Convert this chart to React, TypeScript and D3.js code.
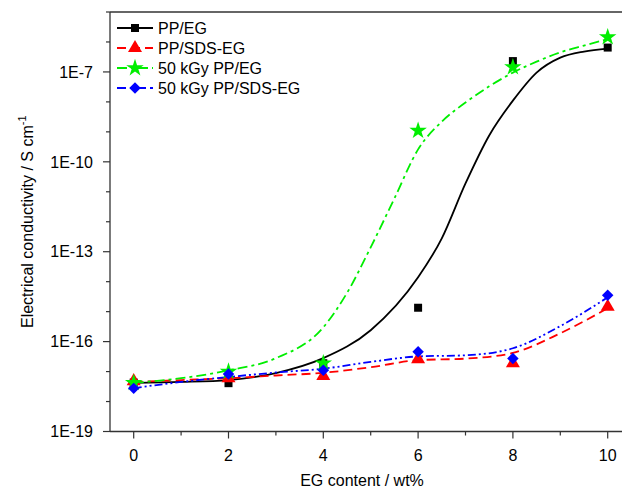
import React, { useEffect, useRef } from 'react';
import * as d3 from 'd3';

// measured points
const egContent = [0, 2, 4, 6, 8, 10];
const ppEG = [4.3e-18, 4.1e-18, 1.9e-17, 1.35e-15, 2.3e-7, 6.5e-7];
const ppSdsEG = [4.8e-18, 6.0e-18, 7.1e-18, 2.6e-17, 1.9e-17, 1.45e-15];
const irrPpEG = [4.2e-18, 1.0e-17, 1.9e-17, 1.1e-9, 1.45e-7, 1.45e-6];
const irrPpSdsEG = [2.75e-18, 8.3e-18, 1.1e-17, 4.6e-17, 2.75e-17, 3.5e-15];

// fitted curves
const fitXBlack = [0, 1, 2, 3, 4, 5, 6, 6.5, 7, 7.5, 8, 8.5, 9, 9.5, 10];
const fitBlack = [4.2e-18, 4.5e-18, 5.2e-18, 8.9e-18, 2.8e-17, 2.4e-16, 1.4e-14, 2.8e-13, 1.9e-11, 7.6e-10, 1.1e-8, 9.5e-8, 3.0e-7, 4.8e-7, 6.0e-7];
const fitXGreen = [0, 1, 2, 3, 4, 4.5, 5, 5.5, 6, 6.5, 7, 7.5, 8, 8.5, 9, 9.5, 10];
const fitGreen = [4.2e-18, 6.0e-18, 1.1e-17, 2.8e-17, 3.0e-16, 4.2e-15, 1.4e-13, 6.0e-12, 2.6e-10, 2.2e-9, 9.5e-9, 3.3e-8, 9.5e-8, 2.2e-7, 4.5e-7, 7.6e-7, 1.25e-6];
const fitXFlat = [0, 1, 2, 3, 4, 5, 6, 7, 8, 9, 10];
const fitRed = [4.5e-18, 5.2e-18, 6.0e-18, 7.4e-18, 9.1e-18, 1.4e-17, 2.4e-17, 2.7e-17, 4.2e-17, 1.9e-16, 1.3e-15];
const fitBlue = [2.8e-18, 4.5e-18, 6.6e-18, 9.3e-18, 1.25e-17, 2.1e-17, 3.2e-17, 3.5e-17, 6.0e-17, 3.3e-16, 3.0e-15];

const xTicks = [0, 2, 4, 6, 8, 10];
const yLabelExps = [-19, -16, -13, -10, -7];
const seriesNames = ['PP/EG', 'PP/SDS-EG', '50 kGy PP/EG', '50 kGy PP/SDS-EG'];

const App = () => {
    const ref = useRef<SVGSVGElement>(null);

    useEffect(() => {
        const svg = d3.select(ref.current);
        svg.selectAll('*').remove();

        const left = 110, top = 12, bottom = 431.5;
        const x = d3.scaleLinear().domain([-0.5, 10.5]).range([left, left + 11 * 47.4]);
        const y = d3.scaleLog().domain([1e-19, 1e-5]).range([bottom, top]);

        const font = 'Liberation Sans, Arial, sans-serif';
        const axisColor = '#333';

        const series = [
            { name: seriesNames[0], pts: ppEG, fx: fitXBlack, fy: fitBlack, color: '#000', dash: null, legDash: null, sym: d3.symbolSquare, size: 64, rot: 0 },
            { name: seriesNames[1], pts: ppSdsEG, fx: fitXFlat, fy: fitRed, color: '#ff0000', dash: '9,5', legDash: '9,5', sym: d3.symbolTriangle, size: 85, rot: 0 },
            { name: seriesNames[2], pts: irrPpEG, fx: fitXGreen, fy: fitGreen, color: '#00ee00', dash: '10,4,3,4', legDash: '10,4,3,4', sym: d3.symbolStar, size: 95, rot: 0 },
            { name: seriesNames[3], pts: irrPpSdsEG, fx: fitXFlat, fy: fitBlue, color: '#0000ff', dash: '8,3,2,3,2,3', legDash: '9,4,3,4', sym: d3.symbolSquare, size: 66, rot: 45 },
        ];

        // frame (right side is cut off in the original)
        svg.append('line').attr('x1', left).attr('x2', 622).attr('y1', top).attr('y2', top)
            .attr('stroke', axisColor).attr('stroke-width', 1.3);
        svg.append('line').attr('x1', left).attr('x2', 622).attr('y1', bottom).attr('y2', bottom)
            .attr('stroke', axisColor).attr('stroke-width', 1.3);
        svg.append('line').attr('x1', left).attr('x2', left).attr('y1', top).attr('y2', bottom)
            .attr('stroke', axisColor).attr('stroke-width', 1.3);

        // y ticks, every decade
        d3.range(-19, -4).forEach(e => {
            const major = yLabelExps.includes(e);
            svg.append('line')
                .attr('x1', left - (major ? 7 : 4)).attr('x2', left)
                .attr('y1', y(Math.pow(10, e))).attr('y2', y(Math.pow(10, e)))
                .attr('stroke', axisColor).attr('stroke-width', 1.2);
        });
        svg.selectAll('.ylab')
            .data(yLabelExps)
            .enter()
            .append('text')
            .attr('x', 93)
            .attr('y', d => y(Math.pow(10, d)))
            .attr('dy', '0.36em')
            .attr('text-anchor', 'end')
            .attr('font-family', font)
            .attr('font-size', 16)
            .text(d => `1E${d}`);

        // x ticks
        d3.range(0, 11).forEach(v => {
            const major = v % 2 === 0;
            svg.append('line')
                .attr('x1', x(v)).attr('x2', x(v))
                .attr('y1', bottom).attr('y2', bottom + (major ? 7 : 4))
                .attr('stroke', axisColor).attr('stroke-width', 1.2);
        });
        svg.selectAll('.xlab')
            .data(xTicks)
            .enter()
            .append('text')
            .attr('x', d => x(d))
            .attr('y', 461)
            .attr('text-anchor', 'middle')
            .attr('font-family', font)
            .attr('font-size', 16)
            .text(d => d);

        // axis titles
        svg.append('text')
            .attr('x', 362).attr('y', 486)
            .attr('text-anchor', 'middle')
            .attr('font-family', font).attr('font-size', 16)
            .text('EG content / wt%');

        const yt = svg.append('text')
            .attr('transform', `translate(33,${(top + bottom) / 2}) rotate(-90)`)
            .attr('text-anchor', 'middle')
            .attr('font-family', font).attr('font-size', 16);
        yt.append('tspan').text('Electrical conductivity / S cm');
        yt.append('tspan').attr('dy', -7).attr('font-size', 11).text('-1');

        // fitted curves
        const line = d3.line<[number, number]>()
            .x(d => x(d[0]))
            .y(d => y(d[1]))
            .curve(d3.curveMonotoneX);

        series.forEach(s => {
            svg.append('path')
                .attr('d', line(s.fx.map((v, i) => [v, s.fy[i]] as [number, number])))
                .attr('fill', 'none')
                .attr('stroke', s.color)
                .attr('stroke-width', 1.8)
                .attr('stroke-dasharray', s.dash);
        });

        // markers
        series.forEach(s => {
            svg.selectAll(null)
                .data(s.pts)
                .enter()
                .append('path')
                .attr('d', d3.symbol().type(s.sym).size(s.size)())
                .attr('transform', (d, i) => `translate(${x(egContent[i])},${y(d)}) rotate(${s.rot})`)
                .attr('fill', s.color);
        });

        // legend
        const lg = svg.append('g');
        series.forEach((s, i) => {
            const ly = 28 + i * 20;
            lg.append('line')
                .attr('x1', 117).attr('x2', 153)
                .attr('y1', ly).attr('y2', ly)
                .attr('stroke', s.color).attr('stroke-width', 1.8)
                .attr('stroke-dasharray', s.legDash);
            lg.append('path')
                .attr('d', d3.symbol().type(s.sym).size(s.size)())
                .attr('transform', `translate(135,${ly}) rotate(${s.rot})`)
                .attr('fill', s.color);
            lg.append('text')
                .attr('x', 158).attr('y', ly)
                .attr('dy', '0.36em')
                .attr('font-family', font).attr('font-size', 16)
                .text(s.name);
        });
    }, []);

    return (
        <svg ref={ref} width={622} height={492}
            style={{ position: 'absolute', left: 0, top: 0, background: '#fff' }} />
    );
};

export default App;
